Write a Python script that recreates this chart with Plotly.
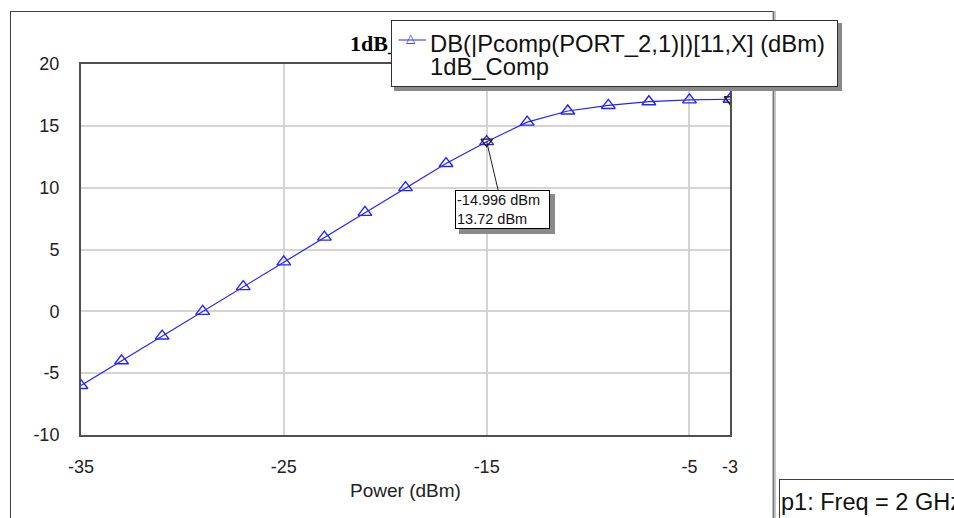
import plotly.graph_objects as go

# ---- data ----
power_dbm = [-35, -33, -31, -29, -27, -25, -23, -21, -19, -17, -15, -13, -11, -9, -7, -5, -3]
pout_dbm = [-6.0, -4.0, -2.0, 0.0, 2.0, 4.0, 6.0, 8.0, 10.0, 11.95, 13.72, 15.3, 16.2, 16.65, 16.95, 17.1, 17.15]
marker_x = [-14.996, -3]
marker_y = [13.72, 17.15]
x_ticks = [-35, -25, -15, -5, -3]
y_ticks = [-10, -5, 0, 5, 10, 15, 20]
series_name = "DB(|Pcomp(PORT_2,1)|)[11,X] (dBm)"
graph_name = "1dB_Comp"
tip_text = "-14.996 dBm<br>13.72 dBm"
sweep_text = "p1: Freq = 2 GHz"

# ---- layout geometry (pixels) ----
W, H = 954, 518
ML, MR, MT, MB = 81, 224, 64, 83
PW, PH = W - ML - MR, H - MT - MB


def px(x):
    return (x - ML) / PW


def py(y):
    return (H - MB - y) / PH


SANS = "Liberation Sans, Arial, sans-serif"
BLUE = "#2424ff"

fig = go.Figure()
fig.add_trace(go.Scatter(
    x=power_dbm, y=pout_dbm, mode="lines+markers",
    line=dict(color=BLUE, width=1.2),
    marker=dict(symbol="triangle-up-open", size=12, color=BLUE, line=dict(width=1.4, color=BLUE)),
    showlegend=False, hoverinfo="x+y",
))
fig.add_trace(go.Scatter(
    x=marker_x, y=marker_y, mode="markers",
    marker=dict(symbol="triangle-down-open", size=10, color="#202020", line=dict(width=1.4, color="#202020")),
    showlegend=False, hoverinfo="skip",
))

axis_common = dict(
    showgrid=True, gridcolor="#d4d4d4", gridwidth=2,
    showline=True, mirror=True, linecolor="#505050", linewidth=2,
    zeroline=False, ticks="",
    tickfont=dict(family=SANS, size=18, color="#222222"),
)
fig.update_xaxes(
    range=[-35, -3], tickvals=x_ticks, ticktext=[str(v) for v in x_ticks],
    ticklabelstandoff=14,
    title=dict(text="Power (dBm)", font=dict(family=SANS, size=19, color="#222222"), standoff=8),
    **axis_common,
)
fig.update_yaxes(
    range=[-10, 20], tickvals=y_ticks, ticktext=[str(v) for v in y_ticks],
    ticklabelstandoff=16,
    **axis_common,
)

shapes = [
    # outer frame
    dict(type="line", xref="paper", yref="paper", x0=px(10.5), x1=px(10.5), y0=py(11.5), y1=py(530),
         line=dict(color="#404040", width=1)),
    dict(type="line", xref="paper", yref="paper", x0=px(10), x1=px(774), y0=py(11.5), y1=py(11.5),
         line=dict(color="#404040", width=1)),
    dict(type="line", xref="paper", yref="paper", x0=px(773.5), x1=px(773.5), y0=py(11), y1=py(530),
         line=dict(color="#7a7a7a", width=2)),
    dict(type="line", xref="paper", yref="paper", x0=px(775.5), x1=px(775.5), y0=py(11), y1=py(530),
         line=dict(color="#c8c8c8", width=1)),
    # legend shadow
    dict(type="rect", xref="paper", yref="paper", x0=px(394), x1=px(842), y0=py(23), y1=py(91),
         fillcolor="#8a8a8a", line=dict(width=0)),
    # tip shadow
    dict(type="rect", xref="paper", yref="paper", x0=px(459), x1=px(555), y0=py(194), y1=py(234),
         fillcolor="#8a8a8a", line=dict(width=0)),
]
for s in shapes:
    s["layer"] = "above"

annotations = [
    # graph title (partly hidden behind the legend)
    dict(text="<b>" + graph_name + "</b>", xref="paper", yref="paper", x=px(348), y=py(44),
         xanchor="left", yanchor="middle", showarrow=False,
         font=dict(family="Liberation Serif, Times New Roman, serif", size=22, color="#000000")),
    # legend box
    dict(text="&nbsp;", xref="paper", yref="paper", x=px(391), y=py(20), xanchor="left", yanchor="top",
         width=445, height=65, bgcolor="#ffffff", bordercolor="#303030", borderwidth=1, borderpad=0,
         showarrow=False, font=dict(size=10)),
    dict(text=series_name, xref="paper", yref="paper", x=px(428), y=py(43), xanchor="left", yanchor="middle",
         showarrow=False, font=dict(family=SANS, size=23.8, color="#111111")),
    dict(text=graph_name, xref="paper", yref="paper", x=px(428), y=py(66), xanchor="left", yanchor="middle",
         showarrow=False, font=dict(family=SANS, size=23.8, color="#111111")),
    # legend symbol line
    dict(text="", xref="paper", yref="paper", x=px(426), y=py(40), ax=-29, ay=0,
         showarrow=True, arrowhead=0, arrowwidth=1, arrowcolor=BLUE, standoff=0, startstandoff=0),
    dict(text="△", xref="paper", yref="paper", x=px(411), y=py(38), xanchor="center", yanchor="middle",
         showarrow=False, font=dict(family="DejaVu Sans", size=12, color=BLUE)),
    # marker readout
    dict(text=tip_text, xref="x", yref="y", x=marker_x[0], y=marker_y[0], ax=16, ay=68,
         showarrow=True, arrowhead=0, arrowwidth=1, arrowcolor="#202020", standoff=0,
         align="left", width=91, height=35, borderpad=1, bgcolor="#ffffff", bordercolor="#000000",
         borderwidth=1, font=dict(family=SANS, size=14.5, color="#111111")),
    # sweep info box
    dict(text=sweep_text, xref="paper", yref="paper", x=px(779), y=py(479), xanchor="left", yanchor="top",
         width=240, height=42, align="left", valign="middle", borderpad=1, bgcolor="#ffffff",
         bordercolor="#404040", borderwidth=1, showarrow=False,
         font=dict(family=SANS, size=23.5, color="#111111")),
]

fig.update_layout(
    width=W, height=H,
    margin=dict(l=ML, r=MR, t=MT, b=MB),
    paper_bgcolor="#ffffff", plot_bgcolor="#ffffff",
    shapes=shapes, annotations=annotations,
    showlegend=False,
)

fig.write_html("out.html")
